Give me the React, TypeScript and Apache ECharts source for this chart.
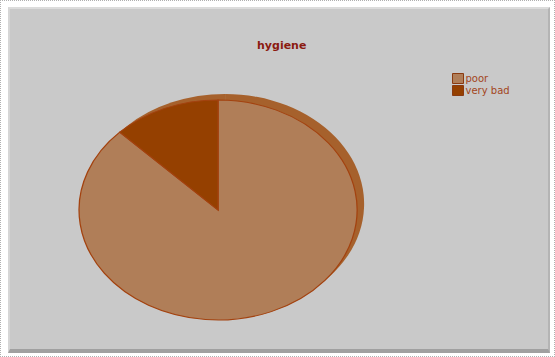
import React, { useEffect, useRef } from "react";
import * as echarts from "echarts";

const categories = ["poor", "very bad"];
const values = [7, 1];
const sliceColors = ["#b07e58", "#954000"];
const titleText = "hygiene";

export default function App() {
  const ref = useRef<HTMLDivElement>(null);
  useEffect(() => {
    document.body.style.margin = "0";
    const chart = echarts.init(ref.current!, null, { renderer: "svg" });
    const total = values.reduce((a, b) => a + b, 0);
    const cx = 218;
    const cy = 210;
    const ry = 110;
    const rx = 139;
    const makeRender = (si: number) => (params: any, api: any) => {
      let cum = 0;
      for (let i = 0; i < si; i++) cum += values[i];
      const v = api.value(0);
      const start = -Math.PI / 2 + (2 * Math.PI * cum) / total;
      const end = -Math.PI / 2 + (2 * Math.PI * (cum + v)) / total;
      const shape = { cx, cy, r: ry, r0: 0, startAngle: start, endAngle: end, clockwise: true };
      return {
        type: "group",
        children: [
          {
            type: "sector",
            shape,
            x: 7,
            y: -6,
            originX: cx,
            originY: cy,
            scaleX: rx / ry,
            z2: 0,
            style: { fill: "#a6612c" },
          },
          {
            type: "sector",
            shape,
            originX: cx,
            originY: cy,
            scaleX: rx / ry,
            z2: 10,
            style: { fill: sliceColors[si], stroke: "#a3420f", lineWidth: 1 },
          },
        ],
      };
    };
    chart.setOption({
      animation: false,
      backgroundColor: "transparent",
      title: {
        text: titleText,
        left: 252,
        top: 35,
        textStyle: {
          fontFamily: "DejaVu Sans",
          fontSize: 11,
          fontWeight: "bold",
          color: "#8b1a10",
        },
      },
      legend: {
        orient: "vertical",
        left: 447,
        top: 68,
        itemWidth: 11,
        itemHeight: 10,
        itemGap: 1,
        icon: "rect",
        selectedMode: false,
        data: categories.map((n, i) => ({
          name: n,
          itemStyle: { color: sliceColors[i], borderColor: "#8a3a10", borderWidth: 1 },
        })),
        textStyle: {
          fontFamily: "DejaVu Sans",
          fontSize: 10,
          color: "#a3461c",
          padding: [0, 0, 0, -3],
        },
      },
      series: categories.map((n, i) => ({
        type: "custom",
        name: n,
        coordinateSystem: "none",
        itemStyle: { color: sliceColors[i] },
        renderItem: makeRender(i),
        data: [[values[i]]],
      })),
    });
    return () => chart.dispose();
  }, []);
  return (
    <div
      style={{
        position: "absolute",
        left: 0,
        top: 0,
        width: 555,
        height: 357,
        background: "#ffffff",
        border: "1px dotted #b0b0b0",
        boxSizing: "border-box",
      }}
    >
      <div
        style={{
          position: "absolute",
          left: 7,
          top: 6,
          width: 542,
          height: 346,
          background: "#c9c9c9",
          borderTop: "2px solid #dcdcdc",
          borderLeft: "2px solid #d6d6d6",
          borderRight: "2px solid #b4b4b4",
          borderBottom: "4px solid #a0a0a0",
          boxSizing: "border-box",
        }}
      />
      <div ref={ref} style={{ position: "absolute", left: -1, top: -1, width: 555, height: 357 }} />
    </div>
  );
}
